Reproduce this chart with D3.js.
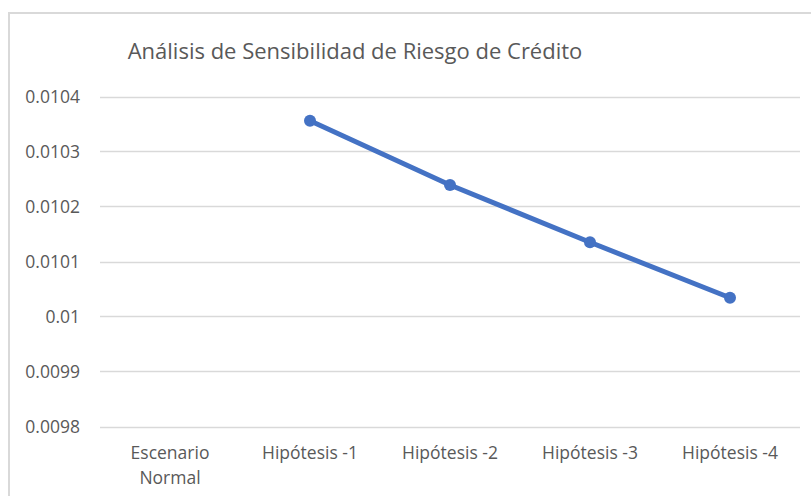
<!DOCTYPE html>
<html>
<head>
<meta charset="utf-8">
<script src="https://cdn.jsdelivr.net/npm/d3@7"></script>
<style>
  body { margin: 0; background: #fff; }
  text { font-family: "Open Sans", sans-serif; fill: #595959; }
</style>
</head>
<body>
<svg id="chart"></svg>
<script>
// categories along the x axis
var categories = ["Escenario Normal", "Hipótesis -1", "Hipótesis -2", "Hipótesis -3", "Hipótesis -4"];
// credit risk values (no value for the normal scenario)
var values = [null, 0.010356, 0.010239, 0.010135, 0.010034];
// y tick labels
var yTicks = [0.0098, 0.0099, 0.01, 0.0101, 0.0102, 0.0103, 0.0104];
var yTickLabels = ["0.0098", "0.0099", "0.01", "0.0101", "0.0102", "0.0103", "0.0104"];

var width = 811;
var height = 496;

var svg = d3.select("#chart")
  .attr("width", width)
  .attr("height", height);

// chart frame (cropped on right/bottom like the reference)
svg.append("path")
  .attr("d", "M9,496 V13 H811")
  .attr("fill", "none")
  .attr("stroke", "#d9d9d9")
  .attr("stroke-width", 2);

// plot area
var x = d3.scaleBand()
  .domain(categories)
  .range([100, 800]);

var y = d3.scaleLinear()
  .domain([0.0098, 0.0104])
  .range([426.5, 96.5]);

// gridlines
svg.append("g")
  .selectAll("line")
  .data(yTicks)
  .enter()
  .append("line")
  .attr("x1", 100)
  .attr("x2", 800)
  .attr("y1", d => Math.round(y(d)) + 0.5)
  .attr("y2", d => Math.round(y(d)) + 0.5)
  .attr("stroke", "#d9d9d9")
  .attr("stroke-width", 1.5);

// y labels
svg.append("g")
  .selectAll("text")
  .data(yTicks)
  .enter()
  .append("text")
  .attr("x", 80)
  .attr("y", d => y(d) + 6)
  .attr("text-anchor", "end")
  .attr("font-size", "17.5px")
  .text((d, i) => yTickLabels[i]);

// x labels, split onto two lines where needed
var xLab = svg.append("g")
  .selectAll("text")
  .data(categories)
  .enter()
  .append("text")
  .attr("x", d => x(d) + x.bandwidth() / 2)
  .attr("y", 459)
  .attr("text-anchor", "middle")
  .attr("font-size", "17.5px");

xLab.each(function(d) {
  var t = d3.select(this);
  var words = d.startsWith("Escenario") ? d.split(" ") : [d];
  words.forEach(function(w, i) {
    t.append("tspan")
      .attr("x", x(d) + x.bandwidth() / 2)
      .attr("dy", i == 0 ? 0 : 25)
      .text(w);
  });
});

// series line
var pts = categories.map((c, i) => ({ c: c, v: values[i] })).filter(d => d.v != null);

var line = d3.line()
  .x(d => x(d.c) + x.bandwidth() / 2)
  .y(d => y(d.v));

svg.append("path")
  .datum(pts)
  .attr("d", line)
  .attr("fill", "none")
  .attr("stroke", "#4472c4")
  .attr("stroke-width", 5)
  .attr("stroke-linecap", "round");

svg.append("g")
  .selectAll("circle")
  .data(pts)
  .enter()
  .append("circle")
  .attr("cx", d => x(d.c) + x.bandwidth() / 2)
  .attr("cy", d => y(d.v))
  .attr("r", 6)
  .attr("fill", "#4472c4");

// title
svg.append("text")
  .attr("x", 355)
  .attr("y", 59)
  .attr("text-anchor", "middle")
  .attr("font-size", "22px")
  .text("Análisis de Sensibilidad de Riesgo de Crédito");
</script>
</body>
</html>
